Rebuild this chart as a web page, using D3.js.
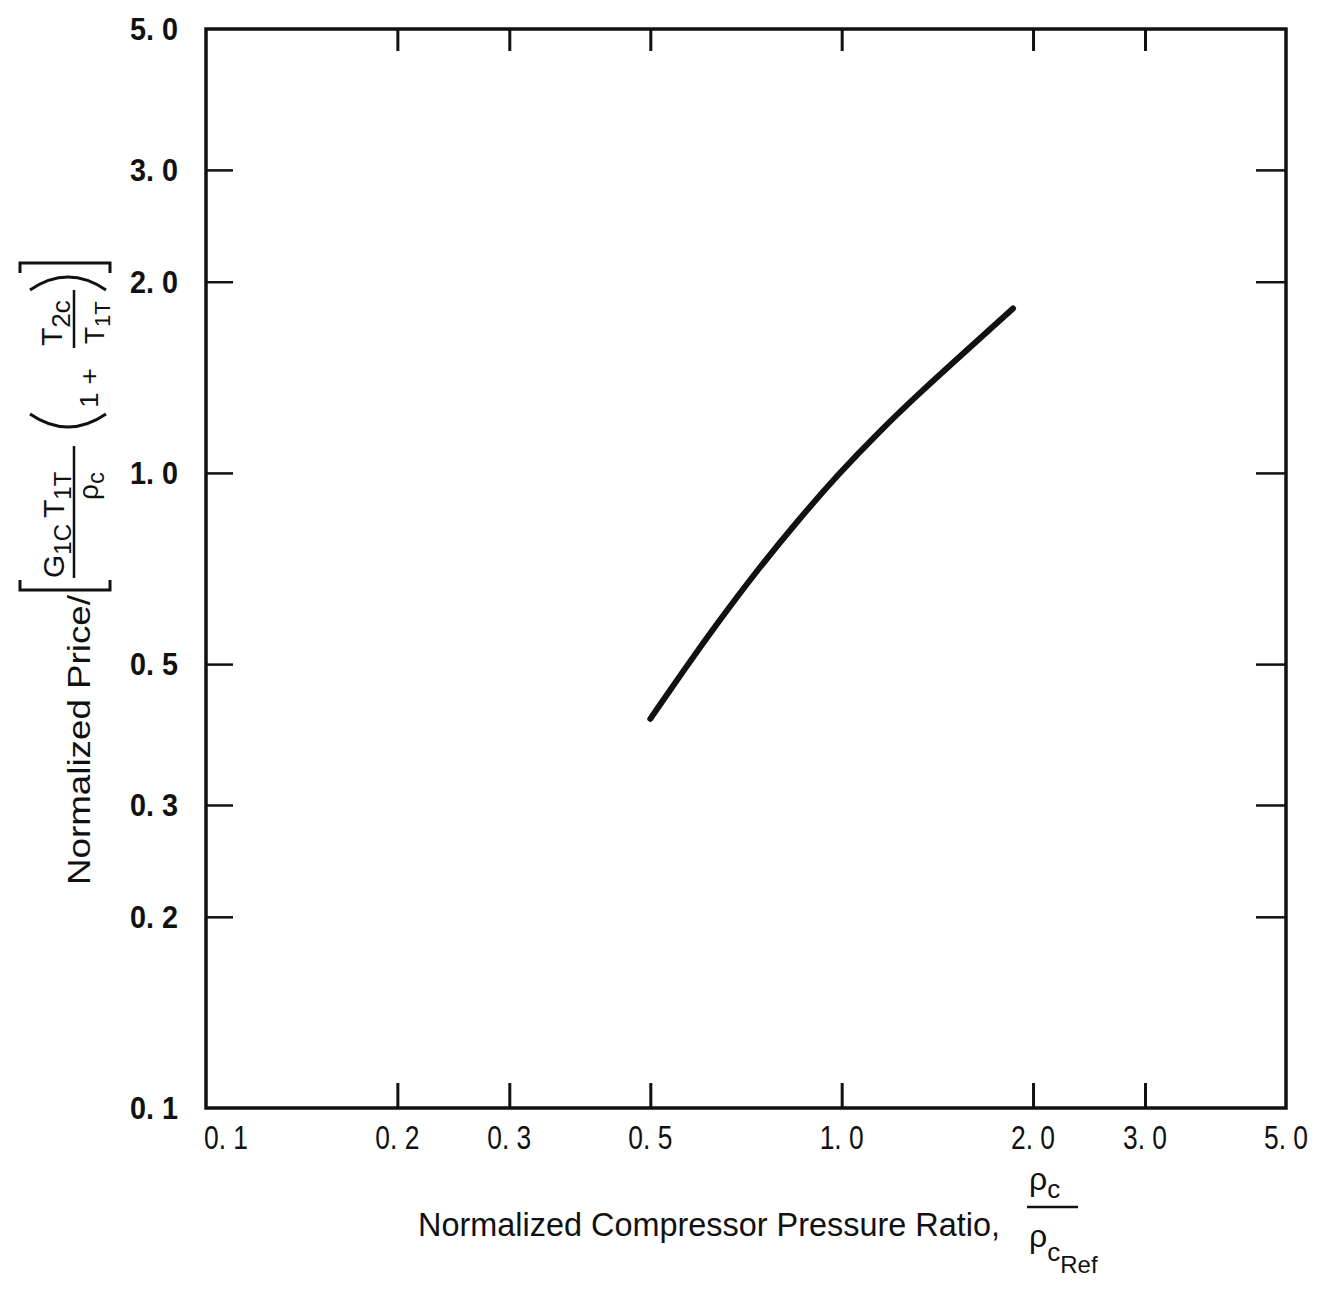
<!DOCTYPE html>
<html>
<head>
<meta charset="utf-8">
<script src="https://cdn.jsdelivr.net/npm/d3@7"></script>
<style>
  html, body { margin: 0; padding: 0; background: #fff; }
  svg { display: block; }
  text { fill: #111; }
</style>
</head>
<body>
<svg id="chart" width="1336" height="1297"></svg>
<script>
// Normalized compressor pressure ratio (x) vs normalized price (y)
const pressureRatio = [0.50, 0.57, 0.64, 0.73, 0.85, 0.99, 1.15, 1.33, 1.59, 1.86];
const normalizedPrice = [0.41, 0.496, 0.583, 0.695, 0.838, 0.998, 1.166, 1.34, 1.575, 1.815];

// Axis ticks and their printed labels
const xTickValues = [0.1, 0.2, 0.3, 0.5, 1.0, 2.0, 3.0, 5.0];
const xTickLabels = ["0. 1", "0. 2", "0. 3", "0. 5", "1. 0", "2. 0", "3. 0", "5. 0"];
const yTickValues = [0.1, 0.2, 0.3, 0.5, 1.0, 2.0, 3.0, 5.0];
const yTickLabels = ["0. 1", "0. 2", "0. 3", "0. 5", "1. 0", "2. 0", "3. 0", "5. 0"];
const innerTicks = [0.2, 0.3, 0.5, 1.0, 2.0, 3.0];

const svg = d3.select("#chart");
const plotLeft = 206, plotRight = 1286, plotTop = 29, plotBottom = 1108;

const x = d3.scaleLog().domain([0.1, 5]).range([plotLeft, plotRight]);
const y = d3.scaleLog().domain([0.1, 5]).range([plotBottom, plotTop]);

const ink = "#111";

// Tick marks on all four sides, pointing inward
svg.append("g").attr("transform", `translate(0,${plotBottom})`)
  .call(d3.axisBottom(x).tickValues(innerTicks).tickSize(-25).tickFormat(""))
  .call(g => g.select(".domain").remove())
  .call(g => g.selectAll("line").attr("stroke", ink).attr("stroke-width", 3));
svg.append("g").attr("transform", `translate(0,${plotTop})`)
  .call(d3.axisTop(x).tickValues(innerTicks).tickSize(-22).tickFormat(""))
  .call(g => g.select(".domain").remove())
  .call(g => g.selectAll("line").attr("stroke", ink).attr("stroke-width", 3));
svg.append("g").attr("transform", `translate(${plotLeft},0)`)
  .call(d3.axisLeft(y).tickValues(innerTicks).tickSize(-27).tickFormat(""))
  .call(g => g.select(".domain").remove())
  .call(g => g.selectAll("line").attr("stroke", ink).attr("stroke-width", 2.5));
svg.append("g").attr("transform", `translate(${plotRight},0)`)
  .call(d3.axisRight(y).tickValues(innerTicks).tickSize(-30).tickFormat(""))
  .call(g => g.select(".domain").remove())
  .call(g => g.selectAll("line").attr("stroke", ink).attr("stroke-width", 2.5));

// Plot frame
svg.append("rect")
  .attr("x", plotLeft).attr("y", plotTop)
  .attr("width", plotRight - plotLeft).attr("height", plotBottom - plotTop)
  .attr("fill", "none").attr("stroke", ink).attr("stroke-width", 3.5);

// Tick labels
const tickFont = "'Liberation Sans', 'DejaVu Sans', sans-serif";
svg.append("g").selectAll("text")
  .data(xTickValues)
  .join("text")
  .attr("x", (d, i) => x(d) + (i === 0 ? 20 : 0))
  .attr("y", 1149)
  .attr("text-anchor", "middle")
  .attr("font-family", tickFont)
  .attr("font-size", 33)
  .attr("textLength", 44)
  .attr("lengthAdjust", "spacingAndGlyphs")
  .text((d, i) => xTickLabels[i]);

svg.append("g").selectAll("text")
  .data(yTickValues)
  .join("text")
  .attr("x", 178)
  .attr("y", d => y(d) + 11)
  .attr("text-anchor", "end")
  .attr("font-family", tickFont)
  .attr("font-weight", "bold")
  .attr("font-size", 31)
  .attr("textLength", 48)
  .attr("lengthAdjust", "spacingAndGlyphs")
  .text((d, i) => yTickLabels[i]);

// The curve
const line = d3.line()
  .x(d => x(d[0]))
  .y(d => y(d[1]))
  .curve(d3.curveBasis);
svg.append("path")
  .datum(pressureRatio.map((v, i) => [v, normalizedPrice[i]]))
  .attr("d", line)
  .attr("fill", "none")
  .attr("stroke", ink)
  .attr("stroke-width", 6)
  .attr("stroke-linecap", "round");

// X-axis title with the ratio  ρc / ρc,Ref
const labelFont = "'Liberation Sans', 'DejaVu Sans', sans-serif";
svg.append("text")
  .attr("x", 418).attr("y", 1236)
  .attr("font-family", labelFont)
  .attr("font-size", 34)
  .attr("textLength", 582)
  .attr("lengthAdjust", "spacingAndGlyphs")
  .text("Normalized Compressor Pressure Ratio,");

const xr = svg.append("g").attr("font-family", labelFont);
xr.append("text").attr("x", 1029).attr("y", 1190).attr("font-size", 32).text("ρ")
  .append("tspan").attr("font-size", 26).attr("dy", 8).text("c");
xr.append("line").attr("x1", 1027).attr("x2", 1078).attr("y1", 1207).attr("y2", 1207)
  .attr("stroke", ink).attr("stroke-width", 2.5);
xr.append("text").attr("x", 1029).attr("y", 1247).attr("font-size", 32).text("ρ")
  .append("tspan").attr("font-size", 26).attr("dy", 14).text("c")
  .append("tspan").attr("font-size", 24).attr("dy", 12).text("Ref");

// Y-axis title, rotated: Normalized Price/ [ G1c T1T / ρc (1 + T2c / T1T) ]
const yt = svg.append("g").attr("transform", "rotate(-90)")
  .attr("font-family", labelFont);
yt.append("text")
  .attr("x", -885).attr("y", 90)
  .attr("font-size", 32)
  .attr("textLength", 290)
  .attr("lengthAdjust", "spacingAndGlyphs")
  .text("Normalized Price/");

const bracket = (u, dir) =>
  `M${u + 10 * dir},20 L${u},20 L${u},110 L${u + 10 * dir},110`;
yt.append("path").attr("d", bracket(-590, 1))
  .attr("fill", "none").attr("stroke", ink).attr("stroke-width", 3);
yt.append("path").attr("d", bracket(-263, -1))
  .attr("fill", "none").attr("stroke", ink).attr("stroke-width", 3);

// first fraction
const num1 = yt.append("text").attr("x", -578).attr("y", 64).attr("font-size", 30);
num1.append("tspan").text("G");
num1.append("tspan").attr("font-size", 24).attr("dy", 7).text("1C");
num1.append("tspan").attr("dy", -7).attr("dx", 6).text("T");
num1.append("tspan").attr("font-size", 24).attr("dy", 7).text("1T");
yt.append("line").attr("x1", -578).attr("x2", -446).attr("y1", 74).attr("y2", 74)
  .attr("stroke", ink).attr("stroke-width", 2.5);
const den1 = yt.append("text").attr("x", -500).attr("y", 98).attr("font-size", 28);
den1.append("tspan").text("ρ");
den1.append("tspan").attr("font-size", 24).attr("dy", 6).text("c");

// parentheses
yt.append("path").attr("d", "M-414,30 Q-440,68 -414,106")
  .attr("fill", "none").attr("stroke", ink).attr("stroke-width", 3);
yt.append("path").attr("d", "M-290,30 Q-264,68 -290,106")
  .attr("fill", "none").attr("stroke", ink).attr("stroke-width", 3);

yt.append("text").attr("x", -408).attr("y", 98).attr("font-size", 26)
  .attr("textLength", 40).attr("lengthAdjust", "spacingAndGlyphs").text("1 +");

// second fraction
const num2 = yt.append("text").attr("x", -346).attr("y", 62).attr("font-size", 30);
num2.append("tspan").text("T");
num2.append("tspan").attr("font-size", 26).attr("dy", 8).text("2c");
yt.append("line").attr("x1", -348).attr("x2", -290).attr("y1", 74).attr("y2", 74)
  .attr("stroke", ink).attr("stroke-width", 2.5);
const den2 = yt.append("text").attr("x", -344).attr("y", 104).attr("font-size", 28);
den2.append("tspan").text("T");
den2.append("tspan").attr("font-size", 22).attr("dy", 6).text("1T");
</script>
</body>
</html>
